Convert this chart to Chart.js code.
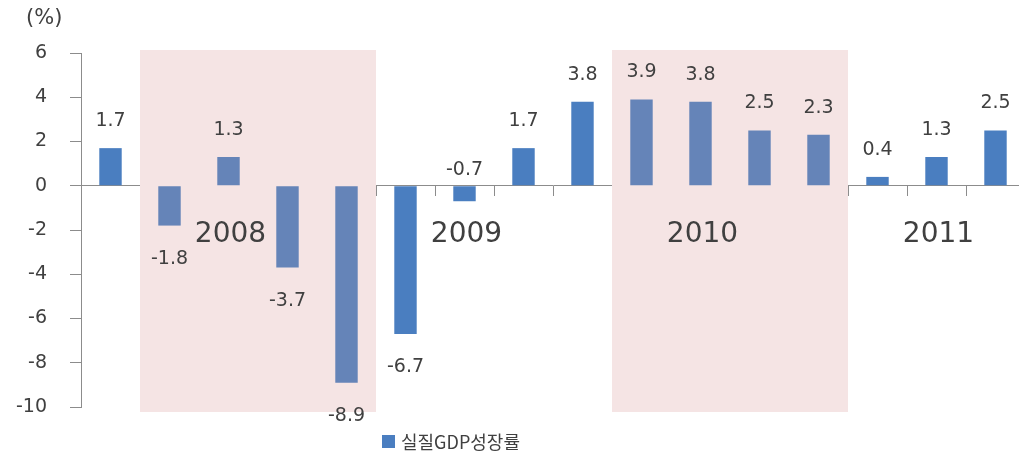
<!DOCTYPE html>
<html>
<head>
<meta charset="utf-8">
<script src="https://cdn.jsdelivr.net/npm/chart.js@4"></script>
<style>
  html, body { margin: 0; padding: 0; background: #fff; overflow: hidden; }
  #wrap { position: relative; width: 1030px; height: 463px; }
</style>
</head>
<body>
<div id="wrap"><canvas id="myChart"></canvas></div>
<script>
// Quarterly real GDP growth (%), 2008 Q1 .. 2011 Q4
const quarters = ['2008.1', '2008.2', '2008.3', '2008.4', '2009.1', '2009.2', '2009.3', '2009.4',
                  '2010.1', '2010.2', '2010.3', '2010.4', '2011.1', '2011.2', '2011.3', '2011.4'];
const gdpGrowth = [1.7, -1.8, 1.3, -3.7, -8.9, -6.7, -0.7, 1.7, 3.8, 3.9, 3.8, 2.5, 2.3, 0.4, 1.3, 2.5];
const yTicks = [-10, -8, -6, -4, -2, 0, 2, 4, 6];
const yearLabels = ['2008', '2009', '2010', '2011'];
const yearAt = [2, 6, 10, 14];
const shadedRanges = [[1, 4], [9, 12]];
const seriesName = '실질GDP성장률';

const barBlue = '#4A7EC0';
const barShaded = '#6584B8';
const shadeColor = '#F5E4E4';
const axisGray = '#8C8C8C';
const textGray = '#404040';
const numFont = 'Verdana, "DejaVu Sans", sans-serif';

function isShaded(i) {
    return shadedRanges.some(r => i >= r[0] && i <= r[1]);
}

// Pink background boxes behind some quarters
const shadePlugin = {
    id: 'shade',
    beforeDatasetsDraw(chart) {
        const ctx = chart.ctx;
        const x = chart.scales.x;
        const half = (x.getPixelForValue(1) - x.getPixelForValue(0)) / 2;
        ctx.save();
        ctx.fillStyle = shadeColor;
        shadedRanges.forEach(r => {
            const left = x.getPixelForValue(r[0]) - half;
            const right = x.getPixelForValue(r[1]) + half;
            ctx.fillRect(left, 50, right - left, 362);
        });
        ctx.restore();
    }
};

// Value labels, year labels, unit and legend
const labelPlugin = {
    id: 'labels',
    afterDatasetsDraw(chart) {
        const ctx = chart.ctx;
        const meta = chart.getDatasetMeta(0);
        const x = chart.scales.x;
        const y = chart.scales.y;
        ctx.save();
        ctx.fillStyle = textGray;
        ctx.textAlign = 'center';
        ctx.textBaseline = 'middle';
        ctx.font = '19px ' + numFont;
        meta.data.forEach((bar, i) => {
            const v = gdpGrowth[i];
            let ty;
            if (v >= 0) ty = bar.y - 27;
            else if (v > -1) ty = bar.base - 16;   // small drop: label sits above the axis
            else ty = bar.y + 33;
            ctx.fillText(v.toFixed(1), bar.x, ty);
        });

        ctx.font = '28px ' + numFont;
        yearLabels.forEach((t, i) => {
            ctx.fillText(t, x.getPixelForValue(yearAt[i]) + 2, y.getPixelForValue(-2.2));
        });

        ctx.font = '21px ' + numFont;
        ctx.textAlign = 'left';
        ctx.fillText('(%)', 26, 19);

        ctx.fillStyle = barBlue;
        ctx.fillRect(382, 435, 13, 13);
        ctx.fillStyle = textGray;
        ctx.font = '18px "Noto Sans CJK KR", sans-serif';
        ctx.fillText(seriesName, 401, 442);
        ctx.restore();
    }
};

const ctx = document.getElementById('myChart').getContext('2d');
const myChart = new Chart(ctx, {
    type: 'bar',
    data: {
        labels: quarters,
        datasets: [{
            label: seriesName,
            data: gdpGrowth,
            backgroundColor: c => isShaded(c.dataIndex) ? barShaded : barBlue,
            barPercentage: 0.76,
            categoryPercentage: 0.5
        }]
    },
    options: {
        responsive: true,
        maintainAspectRatio: false,
        animation: false,
        layout: { padding: { left: 0, right: 5, top: 53, bottom: 56 } },
        plugins: {
            legend: { display: false },
            tooltip: { enabled: false }
        },
        scales: {
            x: {
                position: { y: 0 },
                grid: {
                    display: true,
                    drawOnChartArea: false,
                    tickLength: 10,
                    color: axisGray
                },
                border: { color: axisGray, width: 1 },
                ticks: { display: false }
            },
            y: {
                min: -10,
                max: 6,
                afterBuildTicks: s => { s.ticks = yTicks.map(v => ({ value: v })); },
                afterFit: s => { s.width = 81; },
                grid: {
                    drawOnChartArea: false,
                    tickLength: 11,
                    color: axisGray
                },
                border: { color: axisGray, width: 1 },
                ticks: {
                    padding: 23,
                    color: textGray,
                    font: { size: 19, family: numFont }
                }
            }
        }
    },
    plugins: [shadePlugin, labelPlugin]
});
</script>
</body>
</html>
